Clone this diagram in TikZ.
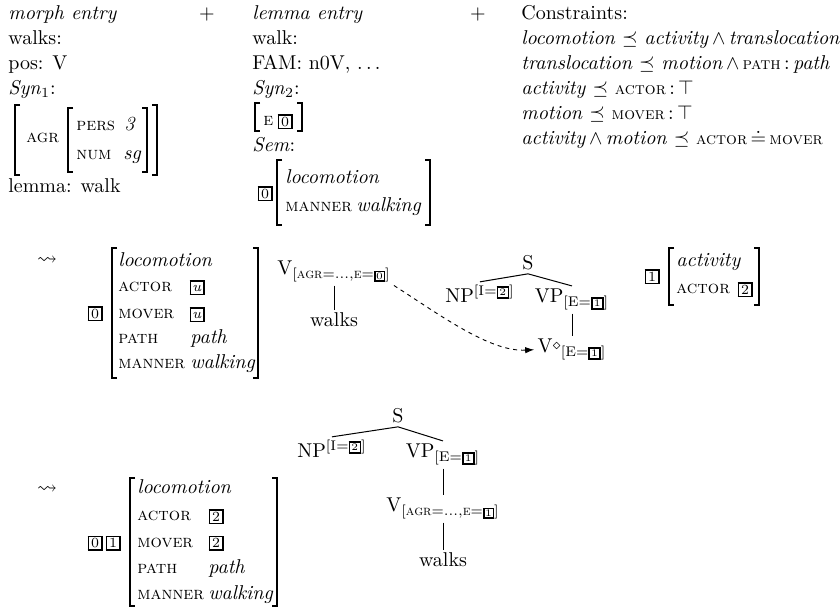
\documentclass[tikz,border=0pt]{standalone}
\usepackage{amsmath,amssymb}
\usetikzlibrary{arrows.meta}
\newcommand{\tgbox}[3]{{\setlength{\fboxsep}{0pt}\setlength{\fboxrule}{0.75pt}\raisebox{-0.8pt}{\fbox{\vbox to #1{\vss\hbox to #1{\hss#2#3\hss}\vss}}}}}
\newcommand{\tg}[1]{\tgbox{6pt}{\scriptsize}{#1}}
\newcommand{\tgs}[1]{\tgbox{4.8pt}{\tiny}{#1}}
\newcommand{\tgss}[1]{\tgbox{4pt}{\tiny}{#1}}
\newcommand{\fsc}[1]{{\fontsize{8.9}{10}\selectfont\textsc{#1}}}
\newcommand{\fscc}[1]{{\fontsize{8.5}{10}\selectfont\textsc{#1}}}
\newcommand{\avmbr}[4]{%
  \draw[brk] (#1+5,#2) -- (#1,#2) -- (#1,#4) -- (#1+5,#4);
  \draw[brk] (#3-5,#2) -- (#3,#2) -- (#3,#4) -- (#3-5,#4);}
\begin{document}
\begin{tikzpicture}[x=0.5pt,y=-0.5pt,
  lbl/.style={anchor=base west,inner sep=0pt,font=\normalsize},
  ctr/.style={anchor=base,inner sep=0pt},
  tagn/.style={inner sep=0pt},
  brk/.style={line width=0.65pt},
  tree/.style={line width=0.5pt},
  tnode/.style={anchor=base,inner sep=1.5pt},
  dasharrow/.style={line width=0.45pt,dash pattern=on 2pt off 2pt,-{Latex[length=4.5pt,width=3.2pt]}}]
\useasboundingbox (0,0) rectangle (840,608);

% ---------- column 1: morph entry
\node[lbl] (m1) at (8,20) {\textit{morph entry}};
\node[lbl] (m2) at (8,45) {walks:};
\node[lbl] (m3) at (8,70) {pos: V};
\node[lbl] (m4) at (8,95) {\textit{Syn}$_1$:};
\avmbr{15}{105}{157}{175}
\node[lbl] (agr) at (26,143) {\fsc{agr}};
\avmbr{68}{108}{147}{172}
\node[lbl] (pers) at (76,131) {\fsc{pers}};
\node[lbl] (pv) at (124,131) {\textit{3}};
\node[lbl] (num) at (76,160) {\fsc{num}};
\node[lbl] (nv) at (123,160) {\textit{sg}};
\node[lbl] (m5) at (8,193) {lemma: walk};

\node[ctr] (plus1) at (207,20) {$+$};

% ---------- column 2: lemma entry
\node[lbl] (l1) at (252,20) {\textit{lemma entry}};
\node[lbl] (l2) at (252,45) {walk:};
\node[lbl] (l3) at (252,70) {FAM: n0V, $\ldots$};
\node[lbl] (l4) at (252,95) {\textit{Syn}$_2$:};
\avmbr{255}{103}{302}{131}
\node[lbl] (le) at (263,126) {\fsc{e}};
\node[tagn] (lt0) at (285,122) {\tg{0}};
\node[lbl] (l5) at (252,152) {\textit{Sem}:};
\node[tagn] (lt0b) at (265,194) {\tg{0}};
\avmbr{277}{160}{430}{225}
\node[lbl] (sl1) at (285,184) {\textit{locomotion}};
\node[lbl] (sl2) at (285,212) {\fsc{manner}};
\node[lbl] (sl3) at (356,212) {\textit{walking}};

\node[ctr] (plus2) at (478,20) {$+$};

% ---------- column 3: constraints
\node[lbl] (c0) at (521,20) {Constraints:};
\node[lbl] (c1) at (521,45) {\textit{locomotion} $\preceq$ \textit{activity}\,$\wedge$\,\textit{translocation}};
\node[lbl] (c2) at (521,70) {\textit{translocation} $\preceq$ \textit{motion}\,$\wedge$\,\fscc{path}\,:\,\textit{path}};
\node[lbl] (c3) at (521,95) {\textit{activity} $\preceq$ \fscc{actor}\,:\,$\top$};
\node[lbl] (c4) at (521,120) {\textit{motion} $\preceq$ \fscc{mover}\,:\,$\top$};
\node[lbl] (c5) at (521,145) {\textit{activity}\,$\wedge$\,\textit{motion} $\preceq$ \fscc{actor}\,$\doteq$\,\fscc{mover}};

% ---------- middle row
\node (lt1) at (47,261) {$\leadsto$};
\node[tagn] (mt0) at (95,314) {\tg{0}};
\avmbr{112}{248}{258}{378}
\node[lbl] (ma1) at (118,267) {\textit{locomotion}};
\node[lbl] (ma2) at (118,292) {\fsc{actor}};
\node[tagn] (mu1) at (197,288) {\tg{\textit{u}}};
\node[lbl] (ma3) at (118,319) {\fsc{mover}};
\node[tagn] (mu2) at (197,315) {\tg{\textit{u}}};
\node[lbl] (ma4) at (118,344) {\fsc{path}};
\node[lbl] (ma4v) at (190,344) {\textit{path}};
\node[lbl] (ma5) at (118,369) {\fsc{manner}};
\node[lbl] (ma5v) at (190,369) {\textit{walking}};

\node[tnode] (v1) at (334,275) {V$_{[\text{\textsc{agr}}=\ldots,\text{\textsc{e}}=\tgss{0}]}$};
\node[tnode] (w1) at (334,327) {walks};
\draw[tree] (v1.south) -- (w1.north);

\node[tnode] (s1) at (528,270) {S};
\node[tnode] (np1) at (480,303) {NP$^{[\mathrm{I}=\tgs{2}]}$};
\node[tnode] (vp1) at (572,303) {VP$_{[\mathrm{E}=\tgs{1}]}$};
\node[tnode] (vd1) at (572,353) {V\raisebox{1.6pt}{$\scriptstyle\diamond$}${}_{[\mathrm{E}=\tgs{1}]}$};
\draw[tree] (s1.south) -- (np1.north);
\draw[tree] (s1.south) -- (vp1.north);
\draw[tree] (vp1.south) -- (vd1.north);
\draw[dasharrow] (v1.south east) .. controls (440,315) and (490,352) .. (vd1.west);

\node[tagn] (rt1) at (652,277) {\tg{1}};
\avmbr{669}{248}{759}{305}
\node[lbl] (ra1) at (676,267) {\textit{activity}};
\node[lbl] (ra2) at (676,294) {\fsc{actor}};
\node[tagn] (rt2) at (745,290) {\tg{2}};

% ---------- bottom row
\node (lt2) at (47,490) {$\leadsto$};
\node[tagn] (bt0) at (95,543) {\tg{0}};
\node[tagn] (bt1) at (113,543) {\tg{1}};
\avmbr{130}{478}{277}{606}
\node[lbl] (ba1) at (137,494) {\textit{locomotion}};
\node[lbl] (ba2) at (137,521) {\fsc{actor}};
\node[tagn] (bv2) at (216,517) {\tg{2}};
\node[lbl] (ba3) at (137,547) {\fsc{mover}};
\node[tagn] (bv3) at (216,543) {\tg{2}};
\node[lbl] (ba4) at (137,574) {\fsc{path}};
\node[lbl] (ba4v) at (208,574) {\textit{path}};
\node[lbl] (ba5) at (137,599) {\fsc{manner}};
\node[lbl] (ba5v) at (208,599) {\textit{walking}};

\node[tnode] (s2) at (398,423) {S};
\node[tnode] (np2) at (332,458) {NP$^{[\mathrm{I}=\tgs{2}]}$};
\node[tnode] (vp2) at (443,458) {VP$_{[\mathrm{E}=\tgs{1}]}$};
\node[tnode] (v2) at (443,512) {V$_{[\text{\textsc{agr}}=\ldots,\text{\textsc{e}}=\tgss{1}]}$};
\node[tnode] (w2) at (443,567) {walks};
\draw[tree] (s2.south) -- (np2.north);
\draw[tree] (s2.south) -- (vp2.north);
\draw[tree] (vp2.south) -- (v2.north);
\draw[tree] (v2.south) -- (w2.north);
\end{tikzpicture}
\end{document}
